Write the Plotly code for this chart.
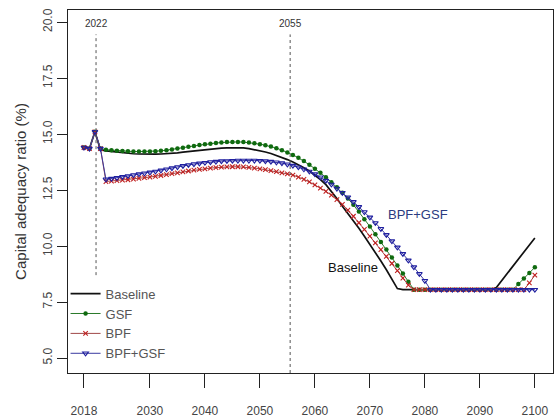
import plotly.graph_objects as go

years = list(range(2018, 2101))

baseline = [14.40, 14.35, 15.10, 14.30, 14.25, 14.22, 14.19, 14.16, 14.14, 14.12,
            14.11, 14.10, 14.10, 14.10, 14.11, 14.12, 14.14, 14.16, 14.19, 14.22,
            14.25, 14.28, 14.31, 14.33, 14.35, 14.37, 14.38, 14.39, 14.39, 14.38,
            14.35, 14.31, 14.26, 14.20, 14.13, 14.05, 13.96, 13.86, 13.75, 13.63,
            13.50, 13.35, 13.17, 12.97, 12.74, 12.44, 12.12, 11.78, 11.46, 11.13,
            10.79, 10.44, 10.08, 9.71, 9.33, 8.94, 8.53, 8.10, 8.05, 8.05,
            8.05, 8.05, 8.05, 8.05, 8.05, 8.05, 8.05, 8.05, 8.05, 8.05,
            8.05, 8.05, 8.05, 8.05, 8.05, 8.15, 8.46, 8.78, 9.10, 9.41,
            9.73, 10.04, 10.36]

gsf = [14.40, 14.35, 15.10, 14.35, 14.30, 14.28, 14.26, 14.24, 14.23, 14.22,
       14.22, 14.22, 14.22, 14.23, 14.25, 14.28, 14.31, 14.35, 14.39, 14.43,
       14.47, 14.51, 14.54, 14.57, 14.60, 14.62, 14.64, 14.65, 14.65, 14.64,
       14.62, 14.59, 14.55, 14.50, 14.44, 14.37, 14.28, 14.18, 14.07, 13.94,
       13.80, 13.63, 13.45, 13.27, 13.07, 12.85, 12.62, 12.38, 12.12, 11.84,
       11.54, 11.20, 10.87, 10.53, 10.18, 9.84, 9.49, 9.13, 8.77, 8.40,
       8.05, 8.05, 8.05, 8.05, 8.05, 8.05, 8.05, 8.05, 8.05, 8.05,
       8.05, 8.05, 8.05, 8.05, 8.05, 8.05, 8.05, 8.05, 8.05, 8.30,
       8.55, 8.80, 9.05]

bpf = [14.40, 14.35, 15.10, 14.35, 12.88, 12.90, 12.92, 12.94, 12.96, 12.99,
       13.02, 13.05, 13.08, 13.11, 13.15, 13.19, 13.23, 13.27, 13.31, 13.35,
       13.39, 13.42, 13.45, 13.48, 13.50, 13.52, 13.53, 13.54, 13.54, 13.53,
       13.51, 13.48, 13.45, 13.41, 13.37, 13.32, 13.27, 13.22, 13.17, 13.08,
       12.98, 12.86, 12.73, 12.59, 12.44, 12.27, 12.07, 11.86, 11.60, 11.33,
       11.04, 10.74, 10.44, 10.14, 9.84, 9.54, 9.22, 8.90, 8.57, 8.25,
       8.05, 8.05, 8.05, 8.05, 8.05, 8.05, 8.05, 8.05, 8.05, 8.05,
       8.05, 8.05, 8.05, 8.05, 8.05, 8.05, 8.05, 8.05, 8.05, 8.05,
       8.05, 8.35, 8.70]

bpf_gsf = [14.40, 14.35, 15.10, 14.35, 12.98, 13.01, 13.05, 13.09, 13.13, 13.17,
           13.21, 13.25, 13.29, 13.33, 13.38, 13.43, 13.48, 13.53, 13.58, 13.62,
           13.66, 13.69, 13.72, 13.75, 13.77, 13.79, 13.80, 13.81, 13.82, 13.82,
           13.82, 13.82, 13.81, 13.79, 13.77, 13.74, 13.70, 13.65, 13.59, 13.52,
           13.43, 13.33, 13.21, 13.07, 12.92, 12.75, 12.57, 12.38, 12.18, 11.97,
           11.75, 11.52, 11.28, 11.03, 10.77, 10.50, 10.22, 9.94, 9.65, 9.36,
           9.06, 8.76, 8.45, 8.05, 8.05, 8.05, 8.05, 8.05, 8.05, 8.05,
           8.05, 8.05, 8.05, 8.05, 8.05, 8.05, 8.05, 8.05, 8.05, 8.05,
           8.05, 8.05, 8.05]

x_ticks = [2018, 2030, 2040, 2050, 2060, 2070, 2080, 2090, 2100]
y_ticks = [5.0, 7.5, 10.0, 12.5, 15.0, 17.5, 20.0]
y_tick_labels = ["5.0", "7.5", "10.0", "12.5", "15.0", "17.5", "20.0"]

event_x = [2020.2, 2055.5]
event_labels = ["2022", "2055"]
event_line_bottom = [8.7, 4.33]

fig = go.Figure()

fig.add_trace(go.Scatter(x=years, y=baseline, name="Baseline", mode="lines",
                         line=dict(color="#111111", width=1.7)))
fig.add_trace(go.Scatter(x=years, y=gsf, name="GSF", mode="lines+markers",
                         line=dict(color="#2a7a2a", width=1.0),
                         marker=dict(symbol="circle", size=4.5, color="#0f6a0f")))
fig.add_trace(go.Scatter(x=years, y=bpf, name="BPF", mode="lines+markers",
                         line=dict(color="#a04848", width=1.0),
                         marker=dict(symbol="x-thin", size=4.5, color="#c02020",
                                     line=dict(color="#c02020", width=1.1))))
fig.add_trace(go.Scatter(x=years, y=bpf_gsf, name="BPF+GSF", mode="lines+markers",
                         line=dict(color="#3a3aa0", width=1.0),
                         marker=dict(symbol="triangle-down-open", size=5, color="#2020a0",
                                     line=dict(color="#2020a0", width=1.1))))

for xv, lab, yb in zip(event_x, event_labels, event_line_bottom):
    fig.add_shape(type="line", x0=xv, x1=xv, y0=yb, y1=19.45, xref="x", yref="y",
                  line=dict(color="#555555", width=1, dash="dot"))
    fig.add_annotation(x=xv, y=19.95, xref="x", yref="y", text=lab, showarrow=False,
                       font=dict(family="Liberation Sans Narrow, Arial Narrow, sans-serif",
                                 size=10, color="#333333"))

fig.add_annotation(x=2066.9, y=9.06, text="Baseline", showarrow=False,
                   font=dict(family="Liberation Sans, Arial, sans-serif", size=13, color="#111111"))
fig.add_annotation(x=2078.7, y=11.43, text="BPF+GSF", showarrow=False,
                   font=dict(family="Liberation Sans, Arial, sans-serif", size=13, color="#2b3b80"))

fig.update_layout(
    width=557, height=419,
    margin=dict(l=68, r=4, t=10, b=46),
    paper_bgcolor="white", plot_bgcolor="white",
    font=dict(family="Liberation Sans, Arial, sans-serif", color="#444444"),
    showlegend=True,
    legend=dict(x=-0.005, y=0.012, xanchor="left", yanchor="bottom",
                bgcolor="rgba(255,255,255,0)", borderwidth=0,
                font=dict(size=13, color="#555555"), tracegroupgap=0),
)
fig.update_xaxes(range=[2015.1, 2103.3], tickvals=x_ticks, showgrid=False, zeroline=False,
                 automargin=False,
                 showline=True, mirror=True, linecolor="#222222", linewidth=1.3,
                 ticks="outside", ticklen=14, tickcolor="#222222", tickwidth=1.3,
                 ticklabelstandoff=12, tickfont=dict(size=12, color="#444444"))
fig.update_yaxes(range=[4.33, 20.54], tickvals=y_ticks, ticktext=y_tick_labels,
                 showgrid=False, zeroline=False, tickangle=-90, automargin=False,
                 showline=True, mirror=True, linecolor="#222222", linewidth=1.3,
                 ticks="outside", ticklen=10, tickcolor="#222222", tickwidth=1.3,
                 tickfont=dict(size=12, color="#444444"),
                 title=dict(text="Capital adequacy ratio (%)", standoff=10,
                            font=dict(size=15, color="#333333")))

fig.write_html("out.html", config={"displayModeBar": False},
               post_script="document.body.style.margin='0';document.body.style.overflow='hidden';")
